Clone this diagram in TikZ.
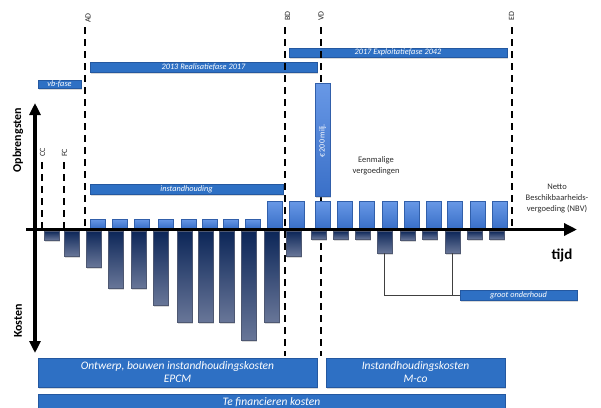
\documentclass[tikz,border=0pt]{standalone}
\usepackage{fontspec}
\setmainfont{Carlito}
\usetikzlibrary{arrows.meta,shadows}
\definecolor{bandblue}{RGB}{46,112,196}
\definecolor{bandedge}{RGB}{36,88,160}
\definecolor{postop}{RGB}{104,152,230}
\definecolor{posbot}{RGB}{58,112,200}
\definecolor{negtop}{RGB}{12,38,88}
\definecolor{negbot}{RGB}{104,118,152}
\definecolor{txtgray}{RGB}{45,45,45}
\tikzset{
  box/.style={anchor=north west, inner sep=0pt, outer sep=0pt},
  shad/.style={drop shadow={opacity=0.3, shadow xshift=1pt, shadow yshift=-1.5pt}},
  band/.style={box, shad, fill=bandblue, draw=bandedge, line width=0.4pt, text=white, align=center},
  posbar/.style={box, shad, top color=postop, bottom color=posbot, draw=posbot!85!black, line width=0.3pt},
  negbar/.style={box, shad, top color=negtop, bottom color=negbot, draw=negbot!75!black, line width=0.3pt},
  phase/.style={dash pattern=on 7pt off 5pt, line width=2.2pt},
  lbl/.style={font=\fontsize{8}{8}\selectfont, text=black!85, rotate=90, anchor=west, inner sep=0pt},
  note/.style={font=\fontsize{8.5}{11}\selectfont, text=txtgray, align=center},
  axisline/.style={line width=3.5pt},
  conn/.style={draw=black!75, line width=0.6pt},
  small/.style={font=\itshape\fontsize{8.3}{8.3}\selectfont},
  large/.style={font=\itshape\fontsize{11.5}{13}\selectfont},
}
\newcommand\rnode[7]{\node[#1, minimum width={(#4-#2)*1pt}, minimum height={(#5-#3)*1pt}] (#6) at (#2,#3) {#7};}
\begin{document}
\begin{tikzpicture}[x=1pt,y=-1pt]
\useasboundingbox (0,0) rectangle (601,407);
\clip (0,0) rectangle (601,407);
% phase bands
\rnode{band,small}{38}{80}{81}{88.5}{vbf}{vb-fase}
\rnode{band,small}{90}{62}{317}{72}{real}{2013 Realisatiefase 2017}
\rnode{band,small}{289}{48}{507}{57.5}{expl}{2017 Exploitatiefase 2042}
\rnode{band,small}{90}{184}{283}{194}{inst}{instandhouding}
\rnode{band,small}{460}{290}{577}{300}{groot}{groot onderhoud}
\rnode{band,large}{38}{358}{317}{387}{epcm}{Ontwerp, bouwen instandhoudingskosten\\EPCM}
\rnode{band,large}{326}{358}{505}{387}{mco}{Instandhoudingskosten\\M-co}
\rnode{band,large}{38}{394}{505}{410}{fin}{Te financieren kosten}
% milestone lines
\coordinate (CCt) at (42,162); \coordinate (CCb) at (42,229);
\coordinate (FCt) at (64,162); \coordinate (FCb) at (64,229);
\coordinate (ADt) at (85,27);  \coordinate (ADb) at (85,229);
\coordinate (BDt) at (285,27); \coordinate (BDb) at (285,356);
\coordinate (VDt) at (321,27); \coordinate (VDb) at (321,356);
\coordinate (EDt) at (512,27); \coordinate (EDb) at (512,229);
\foreach \m in {CC,FC,AD,BD,VD,ED} { \draw[phase] (\m t) -- (\m b); }
\node[lbl] (CClab) at (42.5,157) {CC};
\node[lbl] (FClab) at (64.5,157) {FC};
\node[lbl] (ADlab) at (88,23) {AD};
\node[lbl] (BDlab) at (287.5,21) {BD};
\node[lbl] (VDlab) at (321,21) {VD};
\node[lbl] (EDlab) at (511.5,21) {ED};
% revenue bars
\foreach \x [count=\i] in {90,112,134,158,181,202,223,245}
  { \node[posbar, minimum width=15pt, minimum height=9pt] (p\i) at (\x,219) {}; }
\foreach \x [count=\i] in {267,289,315,337,359,382,404,426,447,470,492}
  { \node[posbar, minimum width=15pt, minimum height=27pt] (q\i) at (\x,201) {}; }
\rnode{posbar}{315}{83}{330}{196}{big}{}
\node[rotate=90, text=white, font=\fontsize{8}{8}\selectfont, inner sep=0pt] (bigtxt) at (322.5,141) {€ 200 milj.};
% cost bars
\foreach \x/\b [count=\i] in {44/240,64/256,86/267,108/288,131/288,153/305,177/322,198/322,219/322,241/340,264/322,286/256,311/239,333/239,355/239,377/253,400/240,422/239,445/253,467/239,489/239}
  { \node[negbar, minimum width=15pt, minimum height={(\b-231)*1pt}] (n\i) at (\x,231) {}; }
% axes
\coordinate (hs) at (26,229.5); \coordinate (he) at (577,229.5);
\coordinate (vt) at (35,103); \coordinate (vbot) at (35,353);
\draw[axisline, -{Triangle[length=13pt,width=12pt]}] (hs) -- (he);
\draw[axisline, {Triangle[length=12pt,width=11pt]}-{Triangle[length=12pt,width=11pt]}] (vbot) -- (vt);
% axis labels
\node[rotate=90, font=\bfseries\fontsize{12}{12}\selectfont] (opb) at (18,140) {Opbrengsten};
\node[rotate=90, font=\bfseries\fontsize{12}{12}\selectfont] (kos) at (18,321) {Kosten};
\node[font=\bfseries\fontsize{15}{15}\selectfont] (tijd) at (562,255) {tijd};
\node[note] (eenm) at (376,165.5) {Eenmalige\\vergoedingen};
\node[note] (nbv) at (557,198.5) {Netto\\Beschikbaarheids-\\vergoeding (NBV)};
% connectors to groot onderhoud
\draw[conn] (n16.south) -- (n16.south |- groot.west) -- (groot.west);
\draw[conn] (n19.south) -- (n19.south |- groot.west);
\end{tikzpicture}
\end{document}
